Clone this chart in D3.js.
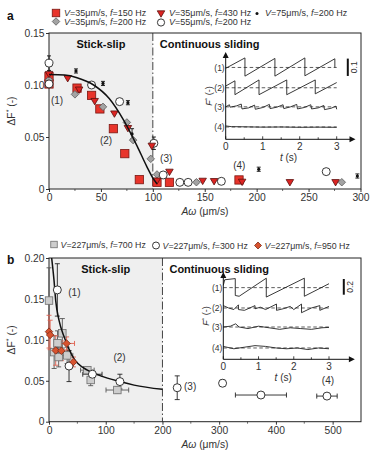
<!DOCTYPE html>
<html>
<head>
<meta charset="utf-8">
<script src="https://cdn.jsdelivr.net/npm/d3@7"></script>
<style>
  body { margin: 0; background: #fff; }
  svg { display: block; font-family: "Liberation Sans", Arial, sans-serif; }
</style>
</head>
<body>
<div id="chart"></div>
<script>
// ---------- panel a data (Aω in µm/s, ΔF*) ----------
const aSq150  = [[0,0.108],[0,0.101],[27,0.097],[41,0.090],[49,0.077],[62,0.058],[73,0.034],[87,0.009],[104,0.0064],[116,0.0064],[183,0.0087]];
const aTri430 = [[0,0.110],[18,0.106],[29,0.095],[44,0.084],[63,0.072],[76,0.058],[99,0.041],[104,0.0075],[116,0.016],[148,0.0073],[159,0.007],[186,0.0064],[232,0.006],[276,0.006]];
const aDia200 = [[0,0.105],[25,0.091],[52,0.079],[75,0.064],[81,0.047],[98,0.029],[104,0.014],[142,0.0065],[282,0.0065]];
const aCirc55 = [[0,0.121],[0,0.101],[41,0.100],[68,0.084],[101,0.044],[110,0.0135],[126,0.0064],[134,0.0064],[166,0.0074],[267,0.0167]];
const aCircErr = [0.007,0,0,0,0.006,0,0,0,0,0];
const aDot75  = [[26,0.1135],[52,0.1015],[76,0.083],[80,0.053],[142,0.0068],[202,0.019],[297,0.0125]];
const aDotErr = [0.002,0.002,0.002,0.005,0.0015,0.002,0.002];
const aFit = [[0,0.110],[15,0.1095],[27,0.107],[43,0.100],[58,0.087],[72,0.066],[85,0.041],[94,0.022],[101,0.009],[104,0.005]];
const aLegend = ["V=35μm/s, f=150 Hz","V=35μm/s, f=430 Hz","V=75μm/s, f=200 Hz","V=35μm/s, f=200 Hz","V=55μm/s, f=200 Hz"];
const aXTicks = [0,50,100,150,200,250,300];
const aYTicks = [0,0.05,0.10,0.15];

// ---------- panel b data ----------
const bSq700  = [[0,0.148],[9,0.085],[15,0.096],[17,0.079],[23.5,0.108],[32,0.081],[67.6,0.063],[73.5,0.051],[120.5,0.0387]];
const bSqErr  = [[0,0.04],[0,0.02],[0,0.015],[0,0.012],[0,0.018],[10,0.01],[12,0.004],[0,0.007],[20,0.004]];
const bCirc300 = [[14.7,0.161],[35.3,0.068],[76.5,0.058],[125,0.049],[226,0.0415],[306,0.047],[373.6,0.0326],[490,0.0313]];
const bCircErr = [[0,0.032],[0,0.019],[17,0],[0,0.009],[0,0.0145],[0,0.004],[45,0],[18,0]];
const bDia950 = [[0,0.110],[2,0.106],[11.8,0.087],[21.8,0.0866],[31,0.0956],[43,0.073]];
const bDiaErr = [[0,0.02],[0,0.018],[0,0.018],[0,0.012],[14,0.008],[0,0.006]];
const bFit = [[4.7,0.2],[8.8,0.173],[11.8,0.148],[17.6,0.124],[26.5,0.104],[44,0.077],[67.6,0.063],[91,0.056],[125,0.049],[150,0.0447],[200,0.0395]];
const bLegend = ["V=227μm/s, f=700 Hz","V=227μm/s, f=300 Hz","V=227μm/s, f=950 Hz"];
const bXTicks = [0,100,200,300,400,500];
const bYTicks = [0,0.05,0.10,0.15,0.20];

// ---------- inset traces: [t (s), F* offset from mean] ----------
const insetA = [
  [[0,-0.005],[0.52,0.055],[0.52,-0.05],[1.33,0.052],[1.33,-0.05],[2.14,0.055],[2.14,-0.048],[2.95,0.05],[2.95,0.0]],
  [[0,0.01],[0.25,0.04],[0.25,-0.04],[0.9,0.045],[0.9,-0.04],[1.65,0.045],[1.65,-0.04],[2.42,0.045],[2.42,-0.035],[3,0.03]],
  [[0,0.0],[0.1,0.012],[0.12,-0.002],[0.3,0.006],[0.42,0.016],[0.44,-0.012],[0.62,-0.006],[0.78,0.01],[0.8,-0.014],[1.0,-0.004],[1.18,0.014],[1.2,-0.01],[1.38,-0.002],[1.55,0.012],[1.57,-0.01],[1.75,0.0],[1.92,0.014],[1.94,-0.012],[2.12,-0.004],[2.3,0.012],[2.32,-0.012],[2.5,-0.006],[2.65,0.008],[2.67,-0.016],[2.85,-0.008],[2.98,0.004],[3,-0.014]],
  [[0,0.006],[0.15,0.002],[0.5,0.001],[1,-0.001],[1.5,0.0],[2,-0.002],[2.5,-0.001],[3,-0.002]]
];
const insetB = [
  [[0,0.03],[0.04,0.1],[0.34,0.115],[0.34,-0.1],[0.45,-0.11],[1.22,0.12],[1.22,-0.12],[2.3,0.12],[2.3,-0.11],[3,0.05]],
  [[0,0.03],[0.15,0.0],[0.3,-0.02],[0.43,0.04],[0.43,-0.02],[0.6,-0.03],[0.9,0.03],[0.9,-0.01],[1.05,0.01],[1.2,-0.02],[1.51,0.05],[1.51,-0.03],[1.7,-0.01],[1.9,0.02],[2.0,-0.02],[2.22,0.05],[2.22,-0.06],[2.5,0.0],[2.74,0.03],[2.74,-0.03],[3,0.02]],
  [[0,0.0],[0.2,0.01],[0.35,0.04],[0.45,0.0],[0.7,-0.02],[1.0,0.01],[1.3,-0.01],[1.6,-0.03],[1.9,-0.01],[2.2,-0.02],[2.5,-0.03],[2.8,-0.01],[3,-0.005]],
  [[0,0.02],[0.3,-0.01],[0.6,0.01],[0.9,0.03],[1.2,0.02],[1.5,0.0],[1.8,-0.01],[2.1,0.0],[2.4,-0.02],[2.7,0.0],[3,-0.01]]
];
const insetLabels = ["(1)","(2)","(3)","(4)"];
const insetTicks = [0,1,2,3];

const FONT = "Liberation Sans, Arial, sans-serif";
const TXT = "#333";

const svg = d3.select("#chart").append("svg").attr("width", 374).attr("height", 462);

// text with italic V / f
function richText(sel, str) {
  str.split(/(V(?==)|f(?==))/).filter(s => s.length).forEach(s => {
    sel.append("tspan").attr("font-style", (s === "V" || s === "f") ? "italic" : null).text(s);
  });
}

function drawPanel(p) {
  const x = d3.scaleLinear().domain(p.xDomain).range([p.left, p.right]);
  const y = d3.scaleLinear().domain(p.yDomain).range([p.bottom, p.top]);
  const g = svg.append("g");

  g.append("rect").attr("x", x(0)).attr("y", p.top)
    .attr("width", x(p.split) - x(0)).attr("height", p.bottom - p.top).attr("fill", "#efefef");

  // minor ticks
  g.selectAll(".mx").data(p.xMinor).join("line")
    .attr("x1", d => x(d)).attr("x2", d => x(d)).attr("y1", p.bottom).attr("y2", p.bottom + 2)
    .attr("stroke", "#333").attr("stroke-width", 0.7);

  const xAxis = d3.axisBottom(x).tickValues(p.xTicks).tickSize(3).tickPadding(2).tickFormat(d3.format("d"));
  const yAxis = d3.axisLeft(y).tickValues(p.yTicks).tickSize(3).tickPadding(1.5)
    .tickFormat(d => d === 0 ? "0" : d3.format(".2f")(d));

  const xg = g.append("g").attr("transform", `translate(0,${p.bottom})`).call(xAxis);
  const yg = g.append("g").attr("transform", `translate(${p.left},0)`).call(yAxis);
  [xg, yg].forEach(a => {
    a.select(".domain").remove();
    a.attr("font-family", FONT).attr("font-size", 10.3);
    a.selectAll("text").attr("fill", TXT);
    a.selectAll("line").attr("stroke", "#333");
  });

  // separator line
  g.append("line").attr("x1", x(p.split)).attr("x2", x(p.split)).attr("y1", p.top).attr("y2", p.bottom)
    .attr("stroke", "#444").attr("stroke-width", 1).attr("stroke-dasharray", "8,2.5,1.5,2.5");

  g.append("rect").attr("x", p.left).attr("y", p.top).attr("width", p.right - p.left)
    .attr("height", p.bottom - p.top).attr("fill", "none").attr("stroke", "#222").attr("stroke-width", 1);

  g.append("text").attr("x", (x(0) + x(p.split)) / 2).attr("y", p.top + 15).attr("text-anchor", "middle")
    .attr("font-weight", "bold").attr("font-size", 11).attr("fill", "#111").text("Stick-slip");
  g.append("text").attr("x", x(p.split) + 7).attr("y", p.top + 15)
    .attr("font-weight", "bold").attr("font-size", 11).attr("fill", "#111").text("Continuous sliding");

  // axis titles
  const yt = g.append("text").attr("transform", `translate(15,${(p.top + p.bottom) / 2}) rotate(-90)`)
    .attr("text-anchor", "middle").attr("font-size", 10.3).attr("fill", TXT);
  yt.append("tspan").text("ΔF");
  yt.append("tspan").attr("font-size", 7).attr("dy", -4).text("*");
  yt.append("tspan").attr("dy", 4).text(" (-)");
  const xt = g.append("text").attr("x", (p.left + p.right) / 2).attr("y", p.bottom + 26)
    .attr("text-anchor", "middle").attr("font-size", 10.3).attr("fill", TXT);
  xt.append("tspan").attr("font-style", "italic").text("Aω");
  xt.append("tspan").text(" (μm/s)");

  g.append("text").attr("x", 7).attr("y", p.labelY).attr("font-weight", "bold").attr("font-size", 12)
    .attr("fill", "#111").text(p.label);
  return { g, x, y };
}

// ---------- marker helpers ----------
function square(g, cx, cy, s, fill, stroke) {
  g.append("rect").attr("x", cx - s / 2).attr("y", cy - s / 2).attr("width", s).attr("height", s)
    .attr("fill", fill).attr("stroke", stroke).attr("stroke-width", 0.8);
}
function triangle(g, cx, cy, s, fill, stroke) {
  const h = s * 0.85;
  g.append("path").attr("d", `M${cx - s / 2},${cy - h / 2}L${cx + s / 2},${cy - h / 2}L${cx},${cy + h / 2}Z`)
    .attr("fill", fill).attr("stroke", stroke).attr("stroke-width", 0.8);
}
function diamond(g, cx, cy, s, fill, stroke) {
  const r = s / 2;
  g.append("path").attr("d", `M${cx},${cy - r}L${cx + r},${cy}L${cx},${cy + r}L${cx - r},${cy}Z`)
    .attr("fill", fill).attr("stroke", stroke).attr("stroke-width", 0.8);
}
function circle(g, cx, cy, r, fill, stroke) {
  g.append("circle").attr("cx", cx).attr("cy", cy).attr("r", r)
    .attr("fill", fill).attr("stroke", stroke).attr("stroke-width", 0.9);
}
function errBar(g, x, y, d, ex, ey, color, cap) {
  const px = x(d[0]), py = y(d[1]);
  const st = s => s.attr("stroke", color).attr("stroke-width", 0.9);
  if (ey > 0) {
    st(g.append("line").attr("x1", px).attr("x2", px).attr("y1", y(d[1] - ey)).attr("y2", y(d[1] + ey)));
    [d[1] - ey, d[1] + ey].forEach(v => st(g.append("line").attr("x1", px - cap).attr("x2", px + cap).attr("y1", y(v)).attr("y2", y(v))));
  }
  if (ex > 0) {
    st(g.append("line").attr("x1", x(d[0] - ex)).attr("x2", x(d[0] + ex)).attr("y1", py).attr("y2", py));
    [d[0] - ex, d[0] + ex].forEach(v => st(g.append("line").attr("x1", x(v)).attr("x2", x(v)).attr("y1", py - cap).attr("y2", py + cap)));
  }
}

const RED_SQ = "#e8342b", RED_SQ_S = "#7a1712";
const RED_TRI = "#dc2422", RED_TRI_S = "#5a0f0d";
const GRAY_DIA = "#a3a3a3", GRAY_DIA_S = "#5a5a5a";
const GRAY_SQ = "#cdcdcd", GRAY_SQ_S = "#6e6e6e";
const RED_DIA = "#d7532f", RED_DIA_S = "#7e2a17";

// ---------- inset ----------
function drawInset(s, traces) {
  const x = d3.scaleLinear().domain([0, 3]).range([s.x0, s.x3]);
  const y = d3.scaleLinear().domain([0, s.top]).range([s.bottom, s.topPx]);
  const g = svg.append("g");
  const line = d3.line().x(d => x(d[0])).y(d => y(d[1]));

  traces.forEach((tr, i) => {
    const lvl = s.levels[i];
    g.append("line").attr("x1", x(0)).attr("x2", x(3)).attr("y1", y(lvl)).attr("y2", y(lvl))
      .attr("stroke", "#333").attr("stroke-width", 0.8).attr("stroke-dasharray", "3.5,2.5");
    g.append("path").datum(tr.map(d => [d[0], d[1] + lvl])).attr("d", line)
      .attr("fill", "none").attr("stroke", "#222").attr("stroke-width", 0.9);
    g.append("text").attr("x", x(0) - 1).attr("y", y(lvl) + 3.2).attr("text-anchor", "end")
      .attr("font-size", 8.5).attr("fill", TXT).text(insetLabels[i]);
  });

  // axes with arrows
  g.append("line").attr("x1", x(0)).attr("x2", x(s.tEnd)).attr("y1", y(0)).attr("y2", y(0)).attr("stroke", "#111").attr("stroke-width", 1);
  g.append("line").attr("x1", x(0)).attr("x2", x(0)).attr("y1", y(0)).attr("y2", y(s.top)).attr("stroke", "#111").attr("stroke-width", 1);
  g.append("path").attr("d", `M${x(s.tEnd) + 4},${y(0)}l-6,-3l0,6Z`).attr("fill", "#111");
  g.append("path").attr("d", `M${x(0)},${y(s.top) - 4}l-3,6l6,0Z`).attr("fill", "#111");

  g.selectAll(".it").data([0.5, 1.5, 2.5].concat(insetTicks)).join("line")
    .attr("x1", d => x(d)).attr("x2", d => x(d)).attr("y1", y(0)).attr("y2", d => y(0) - (Number.isInteger(d) ? 3 : 2))
    .attr("stroke", "#111").attr("stroke-width", 0.8);
  g.selectAll(".tl").data(insetTicks).join("text")
    .attr("x", d => x(d)).attr("y", y(0) + 11).attr("text-anchor", "middle")
    .attr("font-size", 10).attr("fill", TXT).text(d => d);
  const tt = g.append("text").attr("x", x(1.7)).attr("y", y(0) + 22).attr("text-anchor", "middle")
    .attr("font-size", 10).attr("fill", TXT);
  tt.append("tspan").attr("font-style", "italic").text("t");
  tt.append("tspan").text(" (s)");

  const fl = g.append("text").attr("transform", `translate(${x(0) - 14},${s.fLabelY}) rotate(-90)`)
    .attr("text-anchor", "middle").attr("font-size", 9).attr("fill", TXT);
  fl.append("tspan").attr("font-style", "italic").text("F");
  fl.append("tspan").attr("font-size", 6).attr("dy", -3).text("*");
  fl.append("tspan").attr("dy", 3).text(" (-)");

  // scale bar
  g.append("line").attr("x1", x(s.barT)).attr("x2", x(s.barT)).attr("y1", y(s.bar[0])).attr("y2", y(s.bar[1]))
    .attr("stroke", "#111").attr("stroke-width", 2);
  g.append("text").attr("transform", `translate(${x(s.barT) + 9},${(y(s.bar[0]) + y(s.bar[1])) / 2}) rotate(-90)`)
    .attr("text-anchor", "middle").attr("font-size", 8.5).attr("fill", TXT).text(s.barLabel);
}

// ================= panel a =================
const A = drawPanel({
  xDomain: [0, 300.5], yDomain: [0, 0.15], left: 49, right: 361, top: 33, bottom: 189,
  split: 100, xTicks: aXTicks, yTicks: aYTicks, xMinor: d3.range(25, 300, 50),
  label: "a", labelY: 20
});
{
  const { g, x, y } = A;
  aDot75.forEach((d, i) => {
    errBar(g, x, y, d, 0, aDotErr[i], "#111", 2);
    g.append("circle").attr("cx", x(d[0])).attr("cy", y(d[1])).attr("r", 1.6).attr("fill", "#111");
  });
  aCirc55.forEach((d, i) => { if (aCircErr[i]) errBar(g, x, y, d, 0, aCircErr[i], "#111", 2); });
  aSq150.forEach(d => square(g, x(d[0]), y(d[1]), 8.3, RED_SQ, RED_SQ_S));
  aDia200.forEach(d => diamond(g, x(d[0]), y(d[1]), 7.5, GRAY_DIA, GRAY_DIA_S));
  aCirc55.forEach(d => circle(g, x(d[0]), y(d[1]), 4, "#fff", "#222"));
  aTri430.forEach(d => triangle(g, x(d[0]), y(d[1]), 7.5, RED_TRI, RED_TRI_S));
  g.append("path").datum(aFit).attr("d", d3.line().x(d => x(d[0])).y(d => y(d[1])).curve(d3.curveMonotoneX))
    .attr("fill", "none").attr("stroke", "#111").attr("stroke-width", 1.5);
  [["(1)", 1.9, 0.0817], ["(2)", 49, 0.0428], ["(3)", 107, 0.026], ["(4)", 177.4, 0.0197]].forEach(n =>
    g.append("text").attr("x", x(n[1])).attr("y", y(n[2])).attr("font-size", 10).attr("fill", TXT).text(n[0]));

  // legend
  const lg = svg.append("g").attr("font-size", 9).attr("fill", TXT);
  const pos = [[56, 13], [161, 13], [257, 13], [56, 21.5], [161, 21.5]];
  square(lg, pos[0][0], pos[0][1], 7.5, RED_SQ, RED_SQ_S);
  triangle(lg, pos[1][0], pos[1][1] + 1, 7.5, RED_TRI, RED_TRI_S);
  lg.append("circle").attr("cx", pos[2][0]).attr("cy", pos[2][1] + 0.5).attr("r", 1.5).attr("fill", "#111");
  diamond(lg, pos[3][0], pos[3][1], 7.5, GRAY_DIA, GRAY_DIA_S);
  circle(lg, pos[4][0], pos[4][1] + 1, 3.6, "#fff", "#222");
  aLegend.forEach((t, i) => richText(lg.append("text").attr("x", pos[i][0] + 8).attr("y", pos[i][1] + 3.2).attr("fill", TXT), t));
}
drawInset({ x0: 225.7, x3: 336.7, bottom: 139.3, topPx: 56, top: 0.48, tEnd: 3.4,
  levels: [0.414, 0.297, 0.187, 0.071], fLabelY: 96, barT: 3.3, bar: [0.365, 0.465], barLabel: "0.1" }, insetA);

// ================= panel b =================
const B = drawPanel({
  xDomain: [0, 550], yDomain: [0, 0.2], left: 49, right: 361, top: 258, bottom: 421.7,
  split: 200, xTicks: bXTicks, yTicks: bYTicks, xMinor: d3.range(50, 550, 100),
  label: "b", labelY: 264
});
{
  const { g, x, y } = B;
  bSq700.forEach((d, i) => errBar(g, x, y, d, bSqErr[i][0], bSqErr[i][1], "#555", 2.5));
  bCirc300.forEach((d, i) => errBar(g, x, y, d, bCircErr[i][0], bCircErr[i][1], "#222", 2.5));
  bDia950.forEach((d, i) => errBar(g, x, y, d, bDiaErr[i][0], bDiaErr[i][1], "#e0604e", 2.5));
  bSq700.forEach(d => square(g, x(d[0]), y(d[1]), 7.5, GRAY_SQ, GRAY_SQ_S));
  g.append("path").datum(bFit).attr("d", d3.line().x(d => x(d[0])).y(d => y(d[1])).curve(d3.curveMonotoneX))
    .attr("fill", "none").attr("stroke", "#111").attr("stroke-width", 1.5);
  bCirc300.forEach(d => circle(g, x(d[0]), y(d[1]), 4, "#fff", "#222"));
  bDia950.forEach(d => diamond(g, x(d[0]), y(d[1]), 7.5, RED_DIA, RED_DIA_S));
  [["(1)", 34, 0.1533], ["(2)", 113.5, 0.074], ["(3)", 238, 0.0387], ["(4)", 481, 0.0466]].forEach(n =>
    g.append("text").attr("x", x(n[1])).attr("y", y(n[2])).attr("font-size", 10).attr("fill", TXT).text(n[0]));

  const lg = svg.append("g").attr("font-size", 8.8).attr("fill", TXT);
  const pos = [[54, 244.5], [156, 245.5], [258, 245.5]];
  square(lg, pos[0][0], pos[0][1], 6.5, GRAY_SQ, GRAY_SQ_S);
  circle(lg, pos[1][0], pos[1][1], 3.5, "#fff", "#222");
  diamond(lg, pos[2][0], pos[2][1], 7, RED_DIA, RED_DIA_S);
  bLegend.forEach((t, i) => richText(lg.append("text").attr("x", pos[i][0] + 6.5).attr("y", pos[i][1] + 3)
    .attr("fill", TXT), t));
}
drawInset({ x0: 223.3, x3: 329, bottom: 359.3, topPx: 276, top: 1.06, tEnd: 3.62,
  levels: [0.912, 0.653, 0.411, 0.144], fLabelY: 316, barT: 3.42, bar: [0.822, 1.022], barLabel: "0.2" }, insetB);
</script>
</body>
</html>
